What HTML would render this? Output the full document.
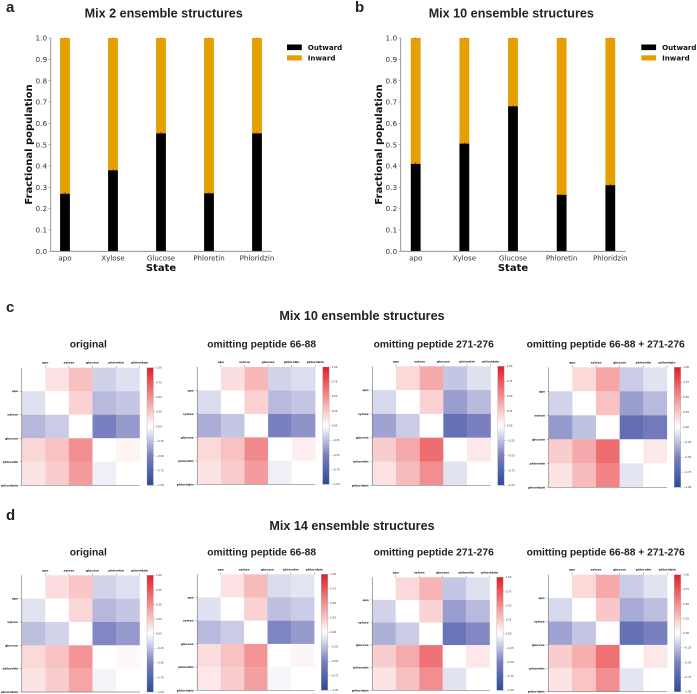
<!DOCTYPE html>
<html>
<head>
<meta charset="utf-8">
<style>
html,body{margin:0;padding:0;background:#fff;}
svg{display:block;filter:blur(0.3px);}
.ttl{font-family:"Liberation Sans",sans-serif;font-weight:bold;fill:#222;}
.tk{font-family:"DejaVu Sans",sans-serif;fill:#333;}
.bd{font-family:"DejaVu Sans",sans-serif;font-weight:bold;fill:#111;}
</style>
</head>
<body>
<svg id="fig" xmlns="http://www.w3.org/2000/svg" width="697" height="694" viewBox="0 0 697 694">
<defs>
<linearGradient id="cmap" x1="0" y1="0" x2="0" y2="1">
<stop offset="0" stop-color="#e31f26"/><stop offset="0.25" stop-color="#f28e90"/><stop offset="0.5" stop-color="#ffffff"/><stop offset="0.75" stop-color="#7a7fbf"/><stop offset="1" stop-color="#2b4a9b"/>
</linearGradient>
</defs>
<text class="ttl" x="6" y="12" font-size="15">a</text>
<text class="ttl" x="355" y="12" font-size="15">b</text>
<text class="ttl" x="6" y="312" font-size="15">c</text>
<text class="ttl" x="6" y="520" font-size="15">d</text>
<text class="ttl" x="362" y="320" font-size="12.6" text-anchor="middle">Mix 10 ensemble structures</text>
<text class="ttl" x="352" y="530" font-size="12.6" text-anchor="middle">Mix 14 ensemble structures</text>
</svg>
<script>
// ---- bar chart data ----
const barStates = ["apo", "Xylose", "Glucose", "Phloretin", "Phloridzin"];
const barYTicks = [0, 0.1, 0.2, 0.3, 0.4, 0.5, 0.6, 0.7, 0.8, 0.9, 1.0];
const mix2Outward = [0.27, 0.38, 0.553, 0.272, 0.553];
const mix10Outward = [0.41, 0.505, 0.68, 0.265, 0.31];
const mix2Error = [0.005, 0.002, 0.005, 0.002, 0.001];
const mix10Error = [0.005, 0.003, 0.003, 0.001, 0.004];

// ---- heatmap data ----
const heatLabels = ["apo", "xylose", "glucose", "phloretin", "phloridzin"];
const colorbarTicks = [1, 0.75, 0.5, 0.25, 0, -0.25, -0.5, -0.75, -1];
const mix10Original = [
  [0, .13, .28, -.18, -.12],
  [-.12, 0, .2, -.27, -.22],
  [-.28, -.2, 0, -.5, -.4],
  [.18, .27, .5, 0, .05],
  [.12, .22, .44, -.06, 0]];
const mix10No6688 = [
  [0, .14, .32, -.17, -.13],
  [-.14, 0, .21, -.27, -.22],
  [-.32, -.22, 0, -.5, -.42],
  [.17, .27, .52, 0, .07],
  [.12, .22, .44, -.06, 0]];
const mix10No271 = [
  [0, .17, .38, -.22, -.12],
  [-.15, 0, .2, -.38, -.27],
  [-.36, -.2, 0, -.63, -.5],
  [.22, .38, .65, 0, .1],
  [.13, .3, .5, -.11, 0]];
const mix10NoBoth = [
  [0, .17, .4, -.2, -.11],
  [-.17, 0, .27, -.38, -.27],
  [-.4, -.24, 0, -.65, -.55],
  [.22, .38, .65, 0, .1],
  [.12, .3, .55, -.1, 0]];
const mix14Original = [
  [0, .15, .25, -.17, -.12],
  [-.11, 0, .18, -.28, -.22],
  [-.25, -.17, 0, -.47, -.4],
  [.17, .27, .47, 0, .03],
  [.12, .22, .4, -.04, 0]];
const mix14No6688 = [
  [0, .13, .3, -.14, -.1],
  [-.12, 0, .2, -.25, -.2],
  [-.27, -.2, 0, -.48, -.4],
  [.15, .27, .47, 0, .04],
  [.1, .23, .42, -.03, 0]];
const mix14No271 = [
  [0, .17, .33, -.22, -.12],
  [-.17, 0, .2, -.38, -.27],
  [-.31, -.2, 0, -.6, -.47],
  [.22, .37, .62, 0, .1],
  [.12, .28, .5, -.11, 0]];
const mix14NoBoth = [
  [0, .17, .38, -.2, -.11],
  [-.15, 0, .25, -.33, -.25],
  [-.36, -.22, 0, -.62, -.5],
  [.22, .36, .63, 0, .1],
  [.12, .26, .5, -.1, 0]];

const svg = document.getElementById('fig');
const NS = 'http://www.w3.org/2000/svg';
function add(tag, attrs, text) {
  const el = document.createElementNS(NS, tag);
  for (const k in attrs) el.setAttribute(k, attrs[k]);
  if (text !== undefined) el.textContent = text;
  svg.appendChild(el);
  return el;
}

const SPINE = '#808080';

function drawBars(cfg) {
  const sy = v => cfg.bottom + (cfg.top - cfg.bottom) * v;
  const sx = i => cfg.firstX + i * cfg.stepX;
  const barW = 9.8;
  const p = cfg.id;

  cfg.outward.forEach((v, i) => {
    const inward = add('rect', {x: sx(i) - barW / 2, y: sy(1), width: barW, height: sy(v) - sy(1), fill: '#e69f00'});
    
    
    const outward = add('rect', {x: sx(i) - barW / 2, y: sy(v), width: barW, height: sy(0) - sy(v), fill: '#000'});
    
    
    const err = add('line', {x1: sx(i), x2: sx(i), y1: sy(v + cfg.error[i]) - 0.4, y2: sy(v), stroke: '#222', 'stroke-width': 0.6});
    
    
    const errTop = add('line', {x1: sx(i), x2: sx(i), y1: sy(1) - 0.4, y2: sy(1) + 0.9, stroke: '#444', 'stroke-width': 0.6});
    
    
    const lab = add('text', {class: 'tk', x: sx(i), y: 260.3, 'font-size': 7.1, 'text-anchor': 'middle'}, barStates[i]);
    
    
  });

  barYTicks.forEach(t => {
    const tick = add('line', {x1: cfg.left - 2, x2: cfg.left, y1: sy(t), y2: sy(t), stroke: SPINE, 'stroke-width': 0.6});
    
    
    const lab = add('text', {class: 'tk', x: cfg.left - 3.6, y: sy(t) + 2.6, 'font-size': 7.3, 'text-anchor': 'end'}, t.toFixed(1));
    
    
  });

  const yAxis = add('line', {x1: cfg.left, x2: cfg.left, y1: sy(1), y2: sy(0), stroke: SPINE, 'stroke-width': 0.8});
  
  
  const xAxis = add('line', {x1: cfg.left, x2: cfg.right, y1: sy(0), y2: sy(0), stroke: SPINE, 'stroke-width': 0.8});
  
  

  const title = add('text', {class: 'ttl', x: cfg.titleX, y: 17.5, 'font-size': 12.6, 'text-anchor': 'middle'}, cfg.title);
  
  
  const xT = add('text', {class: 'bd', x: sx(2), y: 271, 'font-size': 10, 'text-anchor': 'middle'}, 'State');
  
  
  const yT = add('text', {class: 'bd', x: 0, y: 0, 'font-size': 10, 'text-anchor': 'middle', transform: 'translate(' + cfg.yTitleX + ',144.5) rotate(-90)'}, 'Fractional population');
  
  

  const lg1 = add('rect', {x: cfg.legendX, y: 44.5, width: 14.8, height: 5.6, fill: '#000'});
  
  
  const lg2 = add('rect', {x: cfg.legendX, y: 55.3, width: 14.8, height: 5.2, fill: '#e69f00'});
  
  
  const lt1 = add('text', {class: 'bd', x: cfg.legendX + 20.8, y: 49.8, 'font-size': 7.1}, 'Outward');
  
  
  const lt2 = add('text', {class: 'bd', x: cfg.legendX + 20.8, y: 60.4, 'font-size': 7.1}, 'Inward');
  
  
}

function lerp(a, b, t) { return a.map((c, i) => Math.round(c + (b[i] - c) * t)); }
function color(v) {
  const R1 = [227, 31, 38], R5 = [242, 142, 144], W = [255, 255, 255], B5 = [122, 127, 191], B1 = [43, 74, 155];
  const a = Math.abs(v);
  const c = v >= 0
    ? (a <= .5 ? lerp(W, R5, a / .5) : lerp(R5, R1, (a - .5) / .5))
    : (a <= .5 ? lerp(W, B5, a / .5) : lerp(B5, B1, (a - .5) / .5));
  return 'rgb(' + c.join(',') + ')';
}

function drawHeat(cfg) {
  const p = cfg.id;
  const n = heatLabels.length;
  const sx = i => cfg.x0 + (cfg.x1 - cfg.x0) * i / n;
  const sy = i => cfg.y0 + (cfg.y1 - cfg.y0) * i / n;
  const cy = v => cfg.y0 + (cfg.y1 - cfg.y0) * (1 - v) / 2;

  cfg.values.forEach((row, r) => row.forEach((v, c) => {
    const cell = add('rect', {x: sx(c), y: sy(r), width: sx(c + 1) - sx(c) + 0.1, height: sy(r + 1) - sy(r) + 0.1, fill: color(v)});
    
    
  }));

  heatLabels.forEach((l, i) => {
    const tx = add('line', {x1: sx(i + 1), x2: sx(i + 1), y1: cfg.y0 - 1.8, y2: cfg.y0, stroke: '#555', 'stroke-width': 0.4});
    
    
    const lx = add('text', {class: 'bd', x: sx(i + 1), y: cfg.y0 - 4, 'font-size': 3, 'text-anchor': 'middle'}, l);
    
    
    const ty = add('line', {x1: cfg.x0 - 1.8, x2: cfg.x0, y1: sy(i + 1), y2: sy(i + 1), stroke: '#555', 'stroke-width': 0.4});
    
    
    const ly = add('text', {class: 'bd', x: cfg.x0 - 3.6, y: sy(i + 1) + 1, 'font-size': 3, 'text-anchor': 'end'}, l);
    
    
  });

  const ya = add('line', {x1: cfg.x0, x2: cfg.x0, y1: cfg.y0, y2: cfg.y1, stroke: SPINE, 'stroke-width': 0.7});
  
  
  const xa = add('line', {x1: cfg.x0, x2: cfg.x1, y1: cfg.y1, y2: cfg.y1, stroke: SPINE, 'stroke-width': 0.7});
  
  

  const cb = add('rect', {x: cfg.cb, y: cfg.y0, width: 6.4, height: cfg.y1 - cfg.y0, fill: 'url(#cmap)', stroke: '#999', 'stroke-width': 0.3});
  
  
  colorbarTicks.forEach(t => {
    const tk = add('line', {x1: cfg.cb + 6.4, x2: cfg.cb + 7.8, y1: cy(t), y2: cy(t), stroke: '#666', 'stroke-width': 0.3});
    
    
    const lb = add('text', {class: 'tk', x: cfg.cb + 9, y: cy(t) + 0.9, 'font-size': 2.6}, (t < 0 ? '\u2212' : '') + Math.abs(t).toFixed(2));
    
    
  });

  const ti = add('text', {class: 'ttl', x: cfg.tx, y: cfg.ty, 'font-size': 10.25, 'text-anchor': 'middle'}, cfg.title);
  
  
}

drawBars({id: 'mix2', title: 'Mix 2 ensemble structures', outward: mix2Outward, error: mix2Error,
  left: 50.7, right: 271.7, top: 38, bottom: 251.3, firstX: 65, stepX: 48, titleX: 163.7, yTitleX: 32, legendX: 287});
drawBars({id: 'mix10', title: 'Mix 10 ensemble structures', outward: mix10Outward, error: mix10Error,
  left: 400.7, right: 625.7, top: 38, bottom: 251.3, firstX: 415.7, stepX: 48.65, titleX: 511.3, yTitleX: 382, legendX: 641.3});

const T0 = 'original', T1 = 'omitting peptide 66-88', T2 = 'omitting peptide 271-276', T3 = 'omitting peptide 66-88 + 271-276';
drawHeat({id: 'c-original', title: T0, values: mix10Original, x0: 21.7, x1: 139.7, y0: 367.7, y1: 485.3, cb: 147, tx: 88.3, ty: 347.7});
drawHeat({id: 'c-no-66-88', title: T1, values: mix10No6688, x0: 197.3, x1: 315.3, y0: 367, y1: 484.3, cb: 322.7, tx: 261.7, ty: 347.7});
drawHeat({id: 'c-no-271-276', title: T2, values: mix10No271, x0: 372.3, x1: 490.7, y0: 366.3, y1: 485.3, cb: 497.7, tx: 433.7, ty: 347.7});
drawHeat({id: 'c-no-both', title: T3, values: mix10NoBoth, x0: 548.7, x1: 667, y0: 367.3, y1: 487.3, cb: 674.3, tx: 605.7, ty: 347.7});
drawHeat({id: 'd-original', title: T0, values: mix14Original, x0: 21.7, x1: 139.7, y0: 575.3, y1: 692, cb: 147, tx: 88.3, ty: 555.7});
drawHeat({id: 'd-no-66-88', title: T1, values: mix14No6688, x0: 197.3, x1: 314.3, y0: 574.3, y1: 690.3, cb: 321.3, tx: 261.7, ty: 555.7});
drawHeat({id: 'd-no-271-276', title: T2, values: mix14No271, x0: 372.3, x1: 489.7, y0: 577.3, y1: 690.3, cb: 496.7, tx: 433.7, ty: 555.7});
drawHeat({id: 'd-no-both', title: T3, values: mix14NoBoth, x0: 548.3, x1: 667.3, y0: 574.7, y1: 691.7, cb: 674.3, tx: 605.7, ty: 555.7});
</script>
</body>
</html>
